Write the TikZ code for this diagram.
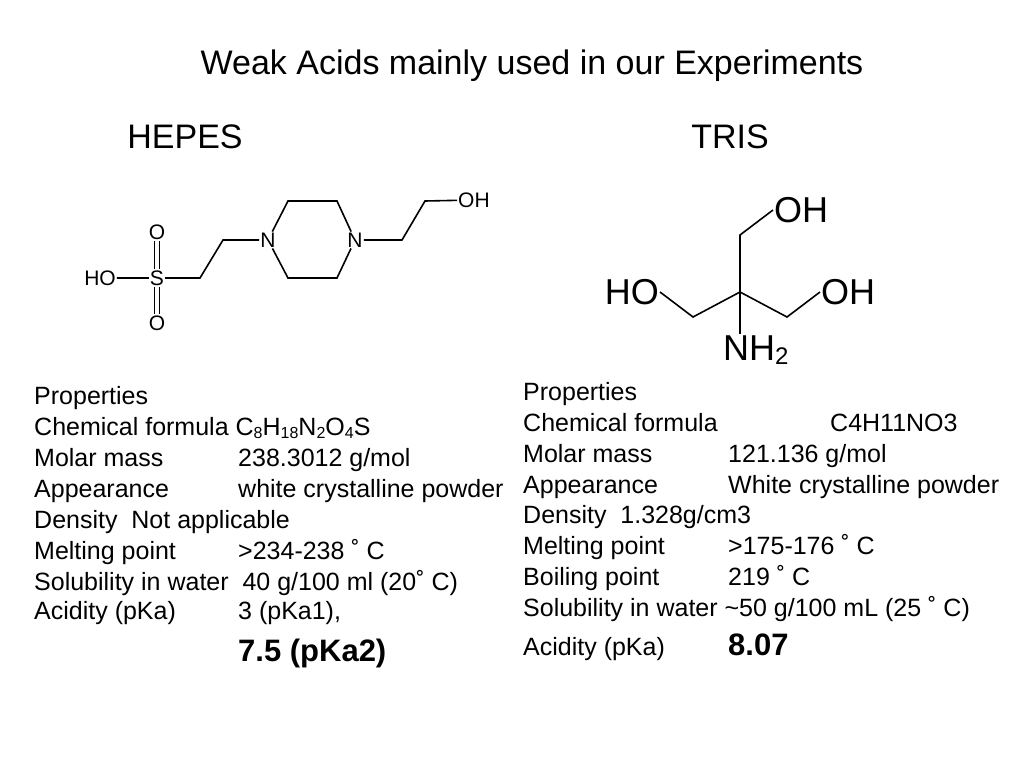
\documentclass[tikz,border=0pt]{standalone}
\usepackage{fontspec}
\setmainfont{Liberation Sans}
\newcommand{\chemsub}[1]{\raisebox{-0.25ex}{\fontsize{16}{16}\selectfont #1}}
\begin{document}
\begin{tikzpicture}[x=1pt,y=-1pt,
    atom/.style={inner sep=1pt,font=\fontsize{21}{21}\selectfont},
    bigatom/.style={inner sep=1pt,font=\fontsize{36}{36}\selectfont},
    bond/.style={line width=1.6pt},
    prop/.style={anchor=base west,inner sep=0pt,font=\fontsize{25}{27}\selectfont}]
    \useasboundingbox (0,0) rectangle (1024,768);

    \node[font=\fontsize{34}{36}\selectfont] (title) at (532,66) {Weak Acids mainly used in our Experiments};
    \node[font=\fontsize{34}{36}\selectfont] (hepes) at (185,137) {HEPES};
    \node[font=\fontsize{34}{36}\selectfont] (tris) at (730,137) {TRIS};

    % HEPES
    \node[atom] (ho) at (100,278) {HO};
    \node[atom] (s) at (157,278) {S};
    \node[atom] (o1) at (157,232) {O};
    \node[atom] (o2) at (157,323) {O};
    \node[atom] (n1) at (268,240) {N};
    \node[atom] (n2) at (355,240) {N};
    \node[atom,anchor=west] (oh) at (457,200) {OH};
    \coordinate (c1) at (200,278);
    \coordinate (c2) at (223,240);
    \coordinate (r1) at (288,201);
    \coordinate (r2) at (337,201);
    \coordinate (r3) at (337,278);
    \coordinate (r4) at (288,278);
    \coordinate (c3) at (402,240);
    \coordinate (c4) at (425,201);
    \draw[bond] (ho) -- (s) -- (c1) -- (c2) -- (n1) -- (r1) -- (r2) -- (n2) -- (r3) -- (r4) -- (n1);
    \draw[bond] (n2) -- (c3) -- (c4) -- (oh);
    \draw[bond] ([xshift=-2.5pt]s.north) -- ([xshift=-2.5pt]o1.south);
    \draw[bond] ([xshift=2.5pt]s.north) -- ([xshift=2.5pt]o1.south);
    \draw[bond] ([xshift=-2.5pt]s.south) -- ([xshift=-2.5pt]o2.north);
    \draw[bond] ([xshift=2.5pt]s.south) -- ([xshift=2.5pt]o2.north);

    % TRIS
    \coordinate (tc) at (740,292);
    \coordinate (tu) at (740,235);
    \coordinate (tl) at (693,317);
    \coordinate (tr) at (787,317);
    \node[bigatom,anchor=west] (toh1) at (773,210) {OH};
    \node[bigatom,anchor=east] (tho) at (660,292) {HO};
    \node[bigatom,anchor=west] (toh2) at (820,292) {OH};
    \node[bigatom,anchor=west] (tn) at (722,350) {NH\chemsub{\fontsize{24}{24}\selectfont 2}};
    \draw[bond] (toh1.west) -- (tu) -- (tc) -- (tl) -- (tho.east);
    \draw[bond] (tc) -- (tr) -- (toh2.west);
    \draw[bond] (tc) -- (tc |- tn.north);

    % HEPES properties
    \node[prop] (hp1) at (34,404) {Properties};
    \node[prop] (hp2) at (34,435) {Chemical formula C\chemsub{8}H\chemsub{18}N\chemsub{2}O\chemsub{4}S};
    \node[prop] (hp3) at (34,466) {Molar mass};
    \node[prop] at (238,466) {238.3012 g/mol};
    \node[prop] (hp4) at (34,497) {Appearance};
    \node[prop] at (238,497) {white crystalline powder};
    \node[prop] (hp5) at (34,528) {Density\ \ Not applicable};
    \node[prop] (hp6) at (34,559) {Melting point};
    \node[prop] at (238,559) {>234-238 ˚ C};
    \node[prop] (hp7) at (34,590) {Solubility in water\ \ 40 g/100 ml (20˚ C)};
    \node[prop] (hp8) at (34,619) {Acidity (pKa)};
    \node[prop] at (238,619) {3 (pKa1),};
    \node[prop,font=\fontsize{31}{32}\selectfont\bfseries] (hpk) at (238,661) {7.5 (pKa2)};

    % TRIS properties
    \node[prop] (tp1) at (523,400) {Properties};
    \node[prop] (tp2) at (523,431) {Chemical formula};
    \node[prop] at (830,431) {C4H11NO3};
    \node[prop] (tp3) at (523,462) {Molar mass};
    \node[prop] at (728,462) {121.136 g/mol};
    \node[prop] (tp4) at (523,493) {Appearance};
    \node[prop] at (728,493) {White crystalline powder};
    \node[prop] (tp5) at (523,523) {Density\ \ 1.328g/cm3};
    \node[prop] (tp6) at (523,554) {Melting point};
    \node[prop] at (728,554) {>175-176 ˚ C};
    \node[prop] (tp7) at (523,585) {Boiling point};
    \node[prop] at (728,585) {219 ˚ C};
    \node[prop] (tp8) at (523,616) {Solubility in water \textasciitilde50 g/100 mL (25 ˚ C)};
    \node[prop] (tp9) at (523,655) {Acidity (pKa)};
    \node[prop,font=\fontsize{31}{32}\selectfont\bfseries] (tpk) at (728,655) {8.07};
\end{tikzpicture}
\end{document}
